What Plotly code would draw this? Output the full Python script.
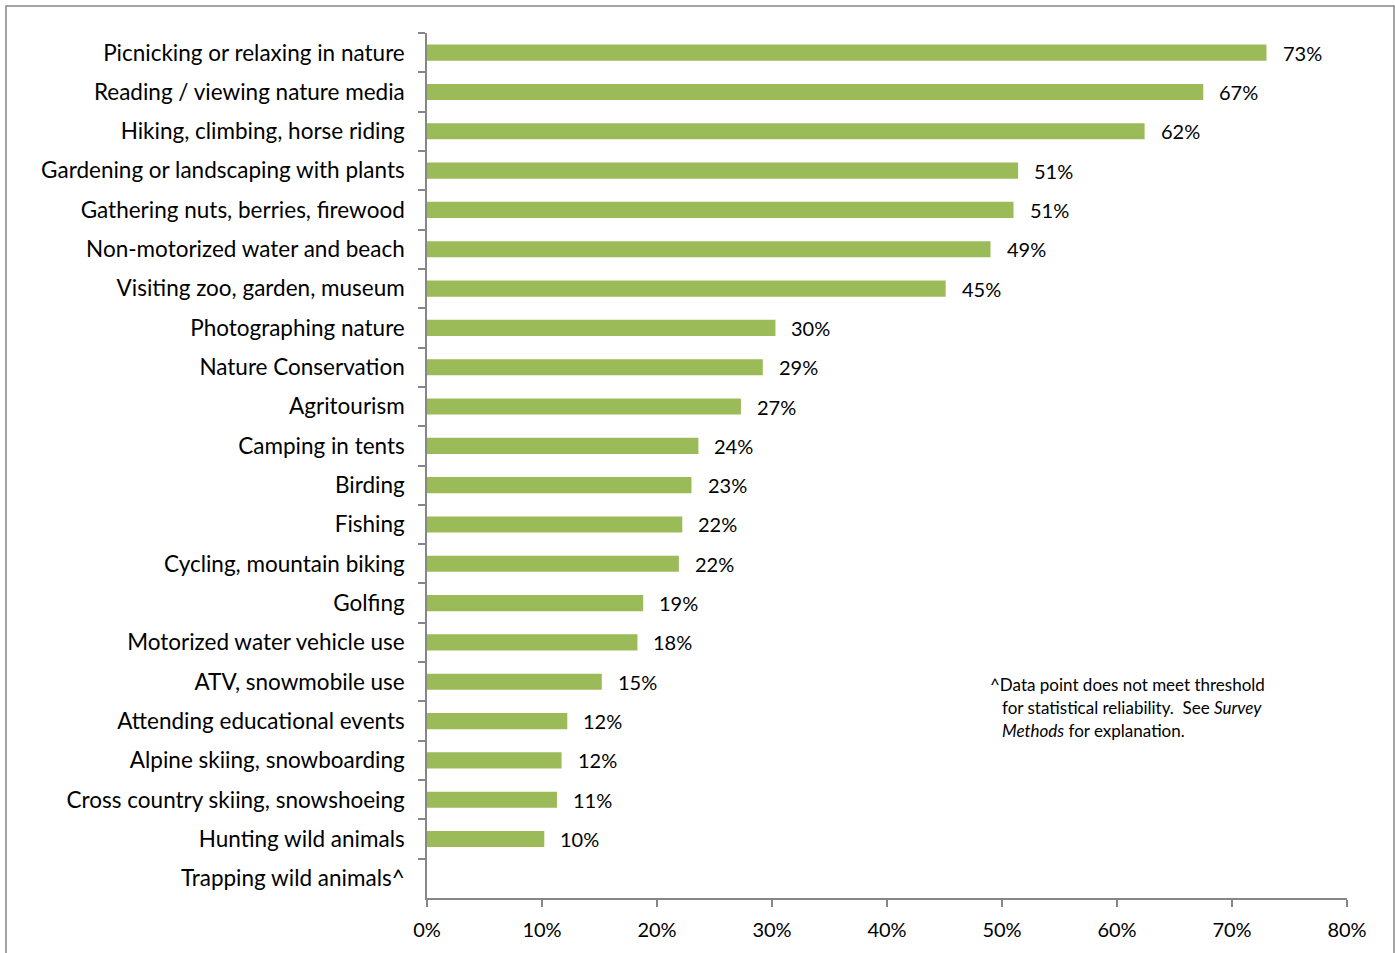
import plotly.graph_objects as go

categories = [
    "Picnicking or relaxing in nature",
    "Reading / viewing nature media",
    "Hiking, climbing, horse riding",
    "Gardening or landscaping with plants",
    "Gathering nuts, berries, firewood",
    "Non-motorized water and beach",
    "Visiting zoo, garden, museum",
    "Photographing nature",
    "Nature Conservation",
    "Agritourism",
    "Camping in tents",
    "Birding",
    "Fishing",
    "Cycling, mountain biking",
    "Golfing",
    "Motorized water vehicle use",
    "ATV, snowmobile use",
    "Attending educational events",
    "Alpine skiing, snowboarding",
    "Cross country skiing, snowshoeing",
    "Hunting wild animals",
    "Trapping wild animals^",
]
values = [0.730, 0.675, 0.624, 0.514, 0.510, 0.490, 0.451, 0.303, 0.292, 0.273,
          0.236, 0.230, 0.222, 0.219, 0.188, 0.183, 0.152, 0.122, 0.117, 0.113,
          0.102, None]
value_labels = ["73%", "67%", "62%", "51%", "51%", "49%", "45%", "30%", "29%", "27%",
                "24%", "23%", "22%", "22%", "19%", "18%", "15%", "12%", "12%", "11%",
                "10%", ""]
x_ticks = [0, 0.1, 0.2, 0.3, 0.4, 0.5, 0.6, 0.7, 0.8]
x_tick_labels = ["0%", "10%", "20%", "30%", "40%", "50%", "60%", "70%", "80%"]

FONT = "Lato"
GREEN = "#9BBB59"
AXIS = "#868686"

fig = go.Figure()
fig.add_trace(go.Bar(
    y=categories, x=values, orientation="h",
    marker=dict(color=GREEN, line=dict(width=0)),
    hoverinfo="skip",
))

annotations = []
for c, v, lab in zip(categories, values, value_labels):
    if v is None or not lab:
        continue
    annotations.append(dict(
        x=v, y=c, xref="x", yref="y", text=lab, showarrow=False,
        xanchor="left", yanchor="middle", xshift=14,
        font=dict(family=FONT, size=20, color="#000000"),
    ))

note_lines = [
    ("^Data point does not meet threshold", 988, 684),
    ("for statistical reliability.  See <i>Survey</i>", 1000, 707),
    ("<i>Methods</i> for explanation.", 1000, 730),
]
W, H = 1395, 953
L, R, T, B = 427, 48, 33, 55
pw, ph = W - L - R, H - T - B
for txt, px, py in note_lines:
    annotations.append(dict(
        x=(px - L) / pw, y=1 - (py - T) / ph, xref="paper", yref="paper",
        text=txt, showarrow=False, xanchor="left", yanchor="middle",
        font=dict(family=FONT, size=17, color="#000000"),
    ))

fig.update_layout(
    width=W, height=H,
    margin=dict(l=L, r=R, t=T, b=B, pad=0),
    paper_bgcolor="white", plot_bgcolor="white",
    showlegend=False,
    bargap=0.59,
    font=dict(family=FONT, size=20, color="#000000"),
    annotations=annotations,
    shapes=[dict(
        type="rect", xref="paper", yref="paper",
        x0=(6 - L) / pw, x1=(1394 - L) / pw,
        y0=1 - (960 - T) / ph, y1=1 - (6 - T) / ph,
        line=dict(color=AXIS, width=1.5), fillcolor="rgba(0,0,0,0)", layer="below",
    )],
)
fig.update_xaxes(
    range=[0, 0.8], tickvals=x_ticks, ticktext=x_tick_labels,
    showgrid=False, zeroline=False,
    showline=True, linecolor=AXIS, linewidth=1.5,
    ticks="outside", ticklen=7, tickcolor=AXIS, tickwidth=1.5,
    ticklabelstandoff=6,
    tickfont=dict(family=FONT, size=20, color="#000000"),
)
fig.update_yaxes(
    type="category", categoryorder="array", categoryarray=categories,
    autorange="reversed",
    showgrid=False, zeroline=False,
    showline=True, linecolor=AXIS, linewidth=1.5,
    ticks="outside", ticklen=7, tickcolor=AXIS, tickwidth=1.5,
    tickson="boundaries", ticklabelstandoff=16,
    tickfont=dict(family=FONT, size=22.5, color="#000000"),
)

fig.write_html("out.html", config={"displayModeBar": False},
               post_script="document.body.style.margin='0';")
